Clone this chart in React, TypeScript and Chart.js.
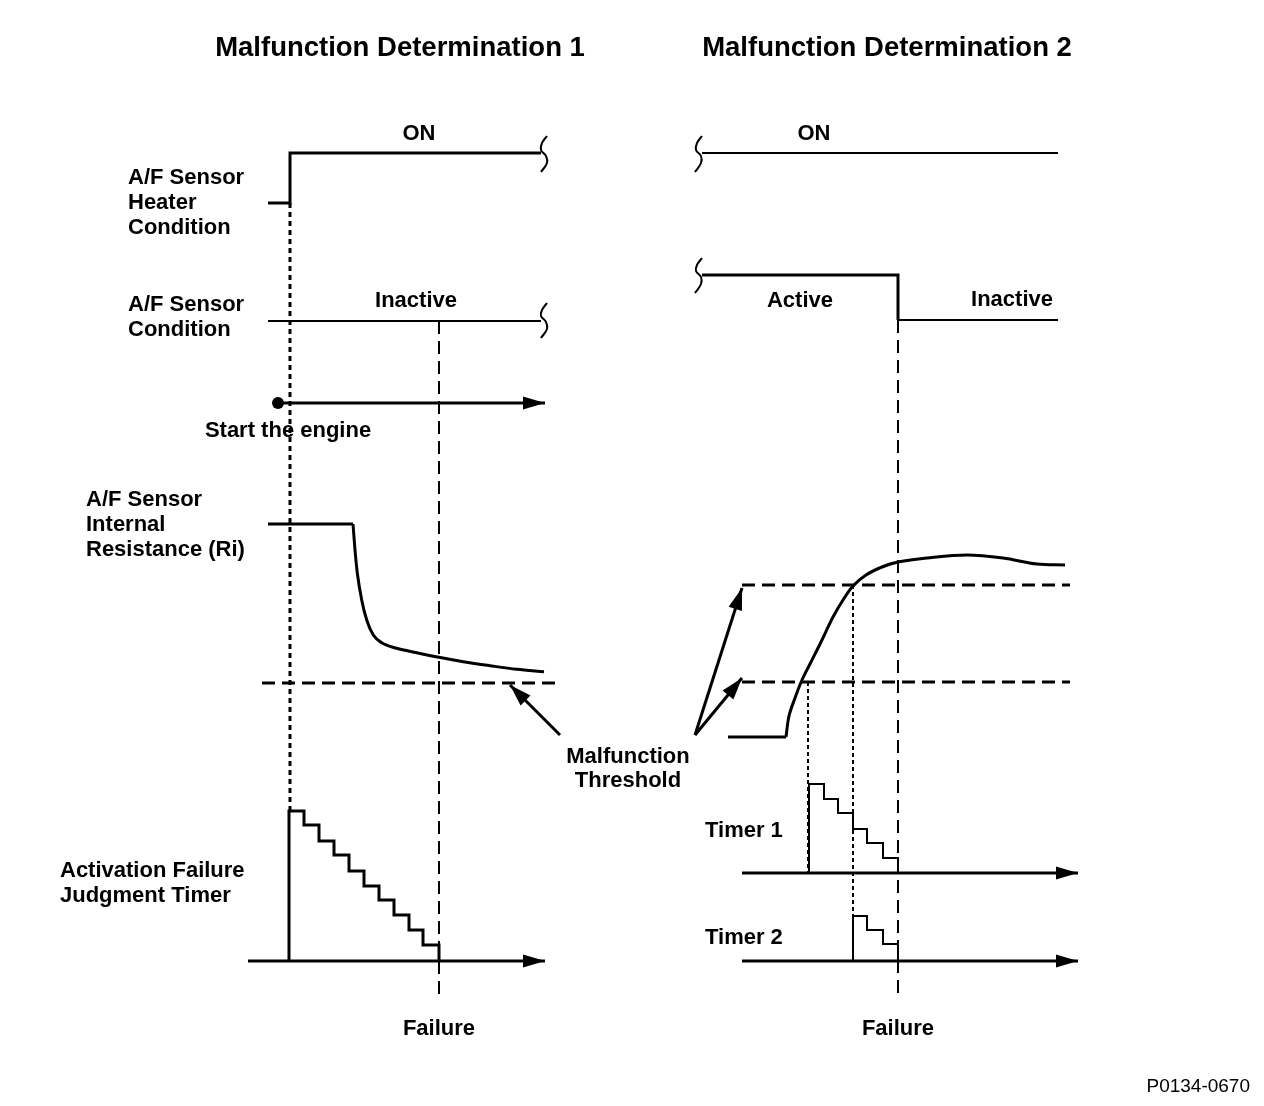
import React, { useEffect, useRef } from "react";
import { Chart, registerables } from "chart.js";

Chart.register(...registerables);

const W = 1264;
const H = 1106;
const FONT = '"Liberation Sans", Arial, Helvetica, sans-serif';

// ---- Data (diagram coordinates) ----
const heaterLeft = [[268, 203], [290, 203], [290, 153], [541, 153]];
const heaterRight = [[702, 153], [1058, 153]];
const condLeft = [[268, 321], [541, 321]];
const condRightActive = [[702, 275], [898, 275], [898, 320]];
const condRightInactive = [[898, 320], [1058, 320]];
const squiggleHeaterL = [[547, 136], [542, 143], [541, 150], [546, 156], [547, 163], [541, 172]];
const squiggleCondL = [[547, 303], [542, 310], [541, 316], [546, 322], [547, 329], [541, 338]];
const squiggleHeaterR = [[702, 136], [697, 143], [696, 150], [701, 156], [701, 163], [695, 172]];
const squiggleCondR = [[702, 258], [697, 265], [696, 271], [701, 277], [701, 284], [695, 293]];
const engineLine = [[278, 403], [545, 403]];
const engineDot = [[278, 403]];
const riFlat = [[268, 524], [353, 524]];
const riCurve = [
  [353, 524], [355, 550], [357.3, 573], [361.7, 600], [366.7, 620], [373.3, 635],
  [381.7, 642.7], [396.7, 648.3], [416.7, 652.7], [439, 657.3], [463.3, 661.7],
  [490, 665.7], [516.7, 669.3], [544, 671.7],
];
const thresholdLeft = [[262, 683], [557, 683]];
const riRightFlat = [[728, 737], [786, 737]];
const riRightCurve = [
  [786, 737], [789, 716], [795, 698], [802, 680], [811, 662], [821, 642], [833, 617],
  [843, 600], [853, 586], [866, 575], [882, 567], [898, 562], [927, 558], [967, 555],
  [1003, 558], [1037, 564], [1065, 565],
];
const thresholdRightUpper = [[742, 585], [1070, 585]];
const thresholdRightLower = [[742, 682], [1070, 682]];
const arrowLeft = [[560, 735], [510, 685]];
const arrowRightUpper = [[695, 735], [742, 588]];
const arrowRightLower = [[695, 735], [742, 678]];
const timerLeftAxis = [[248, 961], [545, 961]];
const timerLeftStepX = [289, 304, 319, 334, 349, 364, 379, 394, 409, 423, 439];
const timerLeftLevels = [811, 825, 841, 855, 871, 886, 900, 915, 930, 945];
const timer1Axis = [[742, 873], [1078, 873]];
const timer1StepX = [809, 824, 838, 853, 867, 883, 898];
const timer1Levels = [784, 799, 813, 829, 843, 858];
const timer2Axis = [[742, 961], [1078, 961]];
const timer2StepX = [853, 867, 883, 898];
const timer2Levels = [916, 930, 944];
const dottedLeft = [[290, 203], [290, 811]];
const dashedFailLeft = [[439, 321], [439, 1000]];
const dashedFailRight = [[898, 320], [898, 1000]];
const dottedT1 = [[808, 682], [808, 873]];
const dottedT2 = [[853, 585], [853, 961]];

type Label = { t: string; x: number; y: number; a: CanvasTextAlign; s: number; b: boolean };
const labels: Label[] = [
  { t: "Malfunction Determination 1", x: 400, y: 48, a: "center", s: 27.5, b: true },
  { t: "Malfunction Determination 2", x: 887, y: 48, a: "center", s: 27.5, b: true },
  { t: "ON", x: 419, y: 134, a: "center", s: 22, b: true },
  { t: "ON", x: 814, y: 134, a: "center", s: 22, b: true },
  { t: "A/F Sensor", x: 128, y: 178, a: "left", s: 22, b: true },
  { t: "Heater", x: 128, y: 203, a: "left", s: 22, b: true },
  { t: "Condition", x: 128, y: 228, a: "left", s: 22, b: true },
  { t: "A/F Sensor", x: 128, y: 305, a: "left", s: 22, b: true },
  { t: "Condition", x: 128, y: 330, a: "left", s: 22, b: true },
  { t: "Inactive", x: 416, y: 301, a: "center", s: 22, b: true },
  { t: "Active", x: 800, y: 301, a: "center", s: 22, b: true },
  { t: "Inactive", x: 1012, y: 300, a: "center", s: 22, b: true },
  { t: "Start the engine", x: 288, y: 431, a: "center", s: 22, b: true },
  { t: "A/F Sensor", x: 86, y: 500, a: "left", s: 22, b: true },
  { t: "Internal", x: 86, y: 525, a: "left", s: 22, b: true },
  { t: "Resistance (Ri)", x: 86, y: 550, a: "left", s: 22, b: true },
  { t: "Malfunction", x: 628, y: 757, a: "center", s: 22, b: true },
  { t: "Threshold", x: 628, y: 781, a: "center", s: 22, b: true },
  { t: "Timer 1", x: 705, y: 831, a: "left", s: 22, b: true },
  { t: "Timer 2", x: 705, y: 938, a: "left", s: 22, b: true },
  { t: "Activation Failure", x: 60, y: 871, a: "left", s: 22, b: true },
  { t: "Judgment Timer", x: 60, y: 896, a: "left", s: 22, b: true },
  { t: "Failure", x: 439, y: 1029, a: "center", s: 22, b: true },
  { t: "Failure", x: 898, y: 1029, a: "center", s: 22, b: true },
  { t: "P0134-0670", x: 1250, y: 1087, a: "right", s: 19, b: false },
];

const toPts = (a: number[][]) => a.map(([x, y]) => ({ x, y }));
const steps = (xs: number[], levels: number[], base: number) => {
  const out: number[][] = [[xs[0], base]];
  levels.forEach((lv, i) => {
    out.push([xs[i], lv]);
    out.push([xs[i + 1], lv]);
  });
  out.push([xs[xs.length - 1], base]);
  return out;
};

function line(data: number[][], width: number, extra: any = {}) {
  return {
    data: toPts(data),
    showLine: true,
    borderColor: "#000",
    backgroundColor: "#000",
    borderWidth: width,
    pointRadius: 0,
    tension: 0,
    fill: false,
    borderCapStyle: "butt",
    borderJoinStyle: "miter",
    ...extra,
  };
}

const arrowPlugin = {
  id: "arrowHeads",
  afterDatasetsDraw(chart: any) {
    const ctx = chart.ctx;
    chart.data.datasets.forEach((ds: any, i: number) => {
      if (!ds.arrow) return;
      const els = chart.getDatasetMeta(i).data;
      if (els.length < 2) return;
      const a = els[els.length - 2];
      const b = els[els.length - 1];
      const ang = Math.atan2(b.y - a.y, b.x - a.x);
      const { len, half } = ds.arrow;
      ctx.save();
      ctx.fillStyle = "#000";
      ctx.beginPath();
      ctx.moveTo(b.x, b.y);
      ctx.lineTo(b.x - len * Math.cos(ang) + half * Math.sin(ang), b.y - len * Math.sin(ang) - half * Math.cos(ang));
      ctx.lineTo(b.x - len * Math.cos(ang) - half * Math.sin(ang), b.y - len * Math.sin(ang) + half * Math.cos(ang));
      ctx.closePath();
      ctx.fill();
      ctx.restore();
    });
  },
};

const textPlugin = {
  id: "texts",
  afterDraw(chart: any) {
    const { ctx, scales } = chart;
    ctx.save();
    ctx.fillStyle = "#000";
    ctx.textBaseline = "middle";
    for (const l of labels) {
      ctx.font = `${l.b ? "bold " : ""}${l.s}px ${FONT}`;
      ctx.textAlign = l.a;
      ctx.fillText(l.t, scales.x.getPixelForValue(l.x), scales.y.getPixelForValue(l.y));
    }
    ctx.restore();
  },
};

export default function App() {
  const ref = useRef<HTMLCanvasElement | null>(null);
  useEffect(() => {
    if (!ref.current) return;
    const axisArrow = { len: 22, half: 6.5 };
    const thrArrow = { len: 22, half: 7 };
    const datasets: any[] = [
      line(dottedLeft, 3, { borderDash: [5, 4] }),
      line(dashedFailLeft, 2, { borderDash: [13, 7] }),
      line(dashedFailRight, 2, { borderDash: [13, 7] }),
      line(dottedT1, 2, { borderDash: [4, 3] }),
      line(dottedT2, 2, { borderDash: [4, 3] }),
      line(heaterLeft, 3),
      line(heaterRight, 2),
      line(condLeft, 2),
      line(condRightActive, 3),
      line(condRightInactive, 2),
      line(squiggleHeaterL, 2, { tension: 0.4 }),
      line(squiggleCondL, 2, { tension: 0.4 }),
      line(squiggleHeaterR, 2, { tension: 0.4 }),
      line(squiggleCondR, 2, { tension: 0.4 }),
      line(engineLine, 3, { arrow: axisArrow }),
      { data: toPts(engineDot), showLine: false, pointRadius: 6, pointBackgroundColor: "#000", pointBorderWidth: 0 },
      line(riFlat, 3),
      line(riCurve, 3, { cubicInterpolationMode: "monotone" }),
      line(thresholdLeft, 3, { borderDash: [13, 7] }),
      line(riRightFlat, 3),
      line(riRightCurve, 3, { tension: 0.35 }),
      line(thresholdRightUpper, 3, { borderDash: [13, 7] }),
      line(thresholdRightLower, 3, { borderDash: [13, 7] }),
      line(arrowLeft, 3, { arrow: thrArrow }),
      line(arrowRightUpper, 3, { arrow: thrArrow }),
      line(arrowRightLower, 3, { arrow: thrArrow }),
      line(timerLeftAxis, 3, { arrow: axisArrow }),
      line(steps(timerLeftStepX, timerLeftLevels, 961), 3),
      line(timer1Axis, 3, { arrow: axisArrow }),
      line(steps(timer1StepX, timer1Levels, 873), 2),
      line(timer2Axis, 3, { arrow: axisArrow }),
      line(steps(timer2StepX, timer2Levels, 961), 2),
    ];
    const chart = new Chart(ref.current, {
      type: "scatter",
      data: { datasets },
      options: {
        animation: false,
        responsive: false,
        devicePixelRatio: 1,
        layout: { padding: 0, autoPadding: false },
        scales: {
          x: { type: "linear", min: 0, max: W, display: false },
          y: { type: "linear", min: 0, max: H, reverse: true, display: false },
        },
        plugins: { legend: { display: false }, tooltip: { enabled: false } },
        events: [],
      },
      plugins: [arrowPlugin, textPlugin],
    } as any);
    return () => chart.destroy();
  }, []);
  return (
    <div style={{ position: "absolute", left: 0, top: 0, width: W, height: H, background: "#fff" }}>
      <canvas ref={ref} width={W} height={H} style={{ width: W, height: H, display: "block" }} />
    </div>
  );
}
